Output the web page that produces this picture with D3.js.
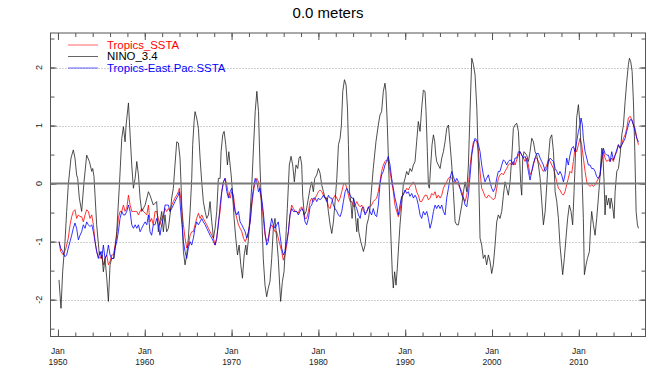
<!DOCTYPE html>
<html>
<head>
<meta charset="utf-8">
<title>0.0 meters</title>
<script src="https://d3js.org/d3.v7.min.js"></script>
<style>
  body { margin: 0; background: #fff; }
  svg text { font-family: "Liberation Sans", Arial, sans-serif; }
</style>
</head>
<body>
<script>
// monthly anomalies, [decimal year, value]
const tropicsSSTA = [
  [1950.12,-1.00],[1950.31,-1.17],[1950.62,-1.23],[1950.92,-1.11],[1951.19,-0.94],[1951.39,-0.71],[1951.58,-0.57],[1951.77,-0.48],[1951.96,-0.45],[1952.15,-0.60],[1952.35,-0.54],[1952.54,-0.57],[1952.73,-0.57],[1952.92,-0.66],[1953.12,-0.54],[1953.31,-0.45],[1953.50,-0.48],[1953.69,-0.60],[1953.89,-0.54],[1954.08,-0.71],[1954.27,-1.00],[1954.46,-1.17],[1954.65,-1.26],[1954.85,-1.29],[1955.04,-1.23],[1955.23,-1.40],[1955.42,-1.29],[1955.62,-1.23],[1955.81,-1.40],[1956.00,-1.34],[1956.19,-1.23],[1956.39,-1.23],[1956.58,-1.06],[1956.77,-0.89],[1956.96,-0.60],[1957.15,-0.48],[1957.35,-0.48],[1957.54,-0.37],[1957.73,-0.48],[1957.92,-0.43],[1958.12,-0.20],[1958.31,-0.37],[1958.50,-0.48],[1958.69,-0.48],[1958.89,-0.48],[1959.08,-0.48],[1959.27,-0.54],[1959.46,-0.48],[1959.65,-0.43],[1959.85,-0.48],[1960.04,-0.51],[1960.23,-0.54],[1960.42,-0.37],
  [1960.60,-0.66],[1960.79,-0.60],[1960.98,-0.71],[1961.18,-0.48],[1961.37,-0.48],[1961.56,-0.60],[1961.75,-0.71],[1961.95,-0.60],[1962.14,-0.54],[1962.33,-0.43],[1962.52,-0.48],[1962.72,-0.43],[1962.91,-0.48],[1963.10,-0.37],[1963.29,-0.31],[1963.48,-0.25],[1963.68,-0.20],[1963.87,-0.14],[1963.98,-0.08],[1964.14,-0.25],[1964.29,-0.48],[1964.45,-0.71],[1964.64,-0.94],[1964.83,-1.11],[1965.02,-1.06],[1965.22,-0.89],[1965.41,-0.83],[1965.60,-0.83],[1965.79,-0.71],[1965.98,-0.60],[1966.18,-0.51],[1966.37,-0.60],[1966.56,-0.54],[1966.75,-0.60],[1966.95,-0.66],[1967.14,-0.71],[1967.33,-0.77],[1967.52,-0.83],[1967.72,-0.89],[1967.91,-0.94],[1968.10,-1.06],[1968.29,-0.94],[1968.48,-0.66],[1968.68,-0.48],[1968.87,-0.14],[1969.06,0.03],[1969.25,0.09],[1969.45,-0.02],[1969.64,-0.20],[1969.83,-0.25],[1970.02,-0.14],[1970.22,-0.20],[1970.41,-0.48],[1970.60,-0.60],[1970.79,-0.71],[1970.98,-0.77],[1971.18,-0.83],[1971.37,-0.94],[1971.56,-1.00],[1971.75,-0.94],[1971.95,-0.83],[1972.14,-0.66],[1972.33,-0.37],[1972.52,-0.14],[1972.72,0.03],[1972.91,0.09],[1973.10,0.03],
  [1973.27,-0.14],[1973.46,-0.31],[1973.65,-0.60],[1973.85,-0.89],[1974.04,-1.00],[1974.23,-0.94],[1974.42,-0.77],[1974.62,-0.71],[1974.81,-0.77],[1975.00,-0.83],[1975.19,-0.83],[1975.38,-0.94],[1975.58,-1.06],[1975.77,-1.17],[1975.96,-1.32],[1976.15,-1.23],[1976.35,-1.06],[1976.54,-0.83],[1976.73,-0.54],[1976.92,-0.37],[1977.12,-0.43],[1977.31,-0.48],[1977.50,-0.48],[1977.69,-0.51],[1977.88,-0.43],[1978.08,-0.40],[1978.27,-0.48],[1978.46,-0.60],[1978.65,-0.60],[1978.85,-0.48],[1979.04,-0.31],[1979.23,-0.25],[1979.42,-0.31],[1979.62,-0.25],[1979.81,-0.20],[1980.00,-0.14],[1980.19,-0.11],[1980.38,-0.14],[1980.58,-0.20],[1980.77,-0.25],[1980.96,-0.25],[1981.15,-0.40],[1981.35,-0.43],[1981.54,-0.31],[1981.73,-0.25],[1981.92,-0.20],[1982.12,-0.25],[1982.31,-0.31],[1982.50,-0.25],[1982.69,-0.14],[1982.88,-0.02],[1983.08,0.01],[1983.27,-0.08],[1983.46,-0.20],[1983.65,-0.31],[1983.85,-0.31],[1984.04,-0.40],[1984.23,-0.37],[1984.42,-0.31],[1984.62,-0.37],[1984.81,-0.40],[1985.00,-0.37],[1985.19,-0.48],[1985.38,-0.51],[1985.58,-0.48],[1985.77,-0.40],
  [1985.94,-0.40],[1986.13,-0.37],[1986.32,-0.31],[1986.52,-0.28],[1986.71,-0.25],[1986.90,-0.14],[1987.09,0.03],[1987.28,0.21],[1987.48,0.32],[1987.67,0.38],[1987.86,0.41],[1988.05,0.38],[1988.25,0.21],[1988.44,0.03],[1988.63,-0.14],[1988.82,-0.37],[1989.02,-0.48],[1989.21,-0.57],[1989.40,-0.48],[1989.59,-0.25],[1989.78,-0.17],[1989.98,-0.14],[1990.17,-0.08],[1990.36,-0.11],[1990.55,-0.05],[1990.75,-0.02],[1990.94,0.03],[1991.13,-0.02],[1991.32,-0.14],[1991.51,-0.20],[1991.71,-0.31],[1991.90,-0.31],[1992.09,-0.25],[1992.28,-0.20],[1992.48,-0.20],[1992.67,-0.28],[1992.86,-0.25],[1993.05,-0.17],[1993.25,-0.20],[1993.44,-0.14],[1993.63,-0.25],[1993.82,-0.20],[1994.02,-0.25],[1994.21,-0.20],[1994.40,-0.08],[1994.59,-0.02],[1994.78,0.03],[1994.98,0.09],[1995.17,0.12],[1995.36,0.09],[1995.55,0.03],[1995.75,0.01],[1995.94,0.03],[1996.13,-0.02],[1996.32,-0.08],[1996.52,-0.14],[1996.71,-0.25],[1996.90,-0.31],[1997.09,-0.20],[1997.28,-0.02],[1997.48,0.32],[1997.67,0.55],[1997.86,0.72],[1998.05,0.75],[1998.25,0.72],[1998.44,0.55],
  [1998.62,0.21],[1998.81,-0.08],[1999.00,-0.14],[1999.19,-0.22],[1999.38,-0.25],[1999.58,-0.20],[1999.77,-0.22],[1999.96,-0.25],[2000.15,-0.28],[2000.35,-0.25],[2000.54,-0.08],[2000.73,0.09],[2000.92,0.15],[2001.12,0.18],[2001.31,0.15],[2001.50,0.21],[2001.69,0.26],[2001.88,0.32],[2002.08,0.35],[2002.27,0.32],[2002.46,0.38],[2002.65,0.32],[2002.85,0.41],[2003.04,0.49],[2003.23,0.55],[2003.42,0.49],[2003.62,0.44],[2003.81,0.38],[2004.00,0.44],[2004.19,0.32],[2004.38,0.15],[2004.58,0.21],[2004.77,0.32],[2004.96,0.44],[2005.15,0.44],[2005.35,0.38],[2005.54,0.32],[2005.73,0.26],[2005.92,0.21],[2006.12,0.26],[2006.31,0.32],[2006.50,0.41],[2006.69,0.38],[2006.88,0.32],[2007.08,0.26],[2007.27,0.15],[2007.46,0.03],[2007.65,-0.08],
  [2007.83,-0.11],[2008.02,-0.17],[2008.22,-0.20],[2008.41,-0.14],[2008.60,-0.02],[2008.79,0.09],[2008.98,0.21],[2009.18,0.18],[2009.37,0.38],[2009.56,0.61],[2009.75,0.55],[2009.95,0.67],[2010.14,0.78],[2010.33,0.67],[2010.52,0.44],[2010.72,0.21],[2010.91,0.03],[2011.10,-0.02],[2011.29,-0.05],[2011.48,-0.02],[2011.68,-0.05],[2011.87,-0.02],[2012.06,0.03],[2012.25,0.09],[2012.45,0.15],[2012.64,0.38],[2012.83,0.55],[2013.02,0.44],[2013.21,0.38],[2013.41,0.41],[2013.60,0.38],[2013.79,0.44],[2013.98,0.38],[2014.18,0.49],[2014.37,0.55],[2014.56,0.67],[2014.75,0.61],[2014.95,0.67],[2015.14,0.78],[2015.33,0.84],[2015.52,0.95],[2015.71,1.13],[2015.91,1.16],[2016.10,1.10],[2016.29,1.01],[2016.48,0.95],[2016.68,0.78],[2016.87,0.67]
];

const nino34 = [
  [1950.12,-1.66],[1950.35,-2.15],[1950.54,-1.52],[1950.81,-1.00],[1951.00,-0.48],[1951.19,-0.02],[1951.50,0.44],[1951.77,0.58],[1951.96,0.44],[1952.15,0.15],[1952.27,0.09],[1952.46,-0.25],[1952.73,-0.48],[1953.00,0.03],[1953.31,0.49],[1953.62,0.38],[1953.89,0.21],[1954.00,0.26],[1954.15,0.12],[1954.46,-0.71],[1954.77,-1.23],[1955.04,-1.17],[1955.23,-1.52],[1955.42,-1.29],[1955.62,-1.63],[1955.81,-2.03],[1956.00,-1.40],[1956.19,-1.29],[1956.46,-1.29],[1956.77,-0.83],[1957.08,-0.02],[1957.35,0.78],[1957.54,0.98],[1957.73,0.72],[1957.85,1.01],[1958.12,1.39],[1958.31,0.84],[1958.50,0.32],[1958.69,-0.08],[1958.89,0.09],[1959.08,0.38],[1959.27,0.15],[1959.46,-0.25],[1959.65,-0.48],[1960.04,-0.37],[1960.42,-0.14],
  [1960.60,-0.20],[1960.98,-0.37],[1961.37,-0.31],[1961.56,-0.83],[1961.75,-0.66],[1961.95,-0.48],[1962.14,-0.83],[1962.33,-0.54],[1962.52,-0.83],[1962.72,-0.77],[1962.91,-0.54],[1963.10,-0.25],[1963.29,-0.08],[1963.48,0.32],[1963.68,0.72],[1963.87,0.70],[1964.06,0.44],[1964.18,-0.02],[1964.33,-0.71],[1964.45,-1.17],[1964.64,-1.40],[1964.83,-1.23],[1965.02,-0.94],[1965.22,-0.48],[1965.41,0.09],[1965.52,0.67],[1965.68,1.07],[1965.79,1.24],[1965.98,1.13],[1966.18,0.95],[1966.37,0.44],[1966.56,0.03],[1966.75,-0.31],[1966.95,-0.48],[1967.14,-0.60],[1967.33,-0.54],[1967.52,-0.31],[1967.72,-0.66],[1967.91,-0.94],[1968.10,-0.77],[1968.29,-0.48],[1968.48,0.09],[1968.68,0.09],[1968.79,0.55],[1968.98,0.84],[1969.14,0.90],[1969.33,0.67],[1969.52,0.32],[1969.68,0.55],[1969.83,0.32],[1969.95,0.15],[1970.10,-0.14],[1970.29,-0.60],[1970.48,-0.94],[1970.68,-1.23],[1970.87,-1.06],[1971.06,-1.40],[1971.25,-1.63],[1971.45,-1.23],[1971.64,-1.06],[1971.75,-1.23],[1971.95,-0.94],[1972.14,-0.48],[1972.33,-0.02],[1972.52,0.61],[1972.72,1.24],[1972.91,1.59],[1973.10,1.24],
  [1973.27,0.32],[1973.46,-0.48],[1973.65,-1.29],[1973.85,-1.75],[1974.04,-1.95],[1974.23,-1.80],[1974.42,-1.69],[1974.62,-1.29],[1974.81,-0.77],[1975.00,-0.60],[1975.19,-0.94],[1975.38,-1.29],[1975.58,-1.86],[1975.65,-2.03],[1975.85,-1.69],[1976.04,-1.52],[1976.23,-1.00],[1976.42,-0.43],[1976.65,0.32],[1976.85,0.47],[1977.04,0.32],[1977.23,0.03],[1977.42,0.32],[1977.62,0.26],[1977.77,0.44],[1977.92,0.47],[1978.08,0.32],[1978.19,-0.20],[1978.38,-0.54],[1978.58,-0.48],[1978.85,-0.25],[1979.04,-0.08],[1979.23,0.03],[1979.42,-0.14],[1979.58,0.09],[1979.81,0.15],[1980.00,0.26],[1980.19,0.18],[1980.38,-0.02],[1980.58,-0.14],[1980.77,-0.25],[1980.96,-0.25],[1981.15,-0.48],[1981.35,-0.71],[1981.54,-0.86],[1981.73,-0.66],[1981.92,-0.31],[1982.12,0.09],[1982.31,0.67],[1982.50,0.78],[1982.65,1.01],[1982.81,1.59],[1983.00,1.79],[1983.19,1.70],[1983.35,1.30],[1983.46,0.67],[1983.58,-0.14],[1983.73,-0.31],[1983.88,-0.60],[1984.04,-0.25],[1984.23,-0.48],[1984.42,-0.83],[1984.54,-0.60],[1984.65,-0.83],[1984.88,-1.00],[1985.19,-1.17],[1985.38,-1.06],[1985.58,-0.71],[1985.77,-0.60],
  [1985.94,-0.43],[1986.32,0.26],[1986.63,0.72],[1986.90,1.01],[1987.09,1.18],[1987.28,1.24],[1987.48,1.59],[1987.67,1.73],[1987.78,1.59],[1987.94,1.01],[1988.09,0.32],[1988.25,-0.48],[1988.36,-0.94],[1988.52,-1.57],[1988.63,-1.80],[1988.78,-1.52],[1988.94,-1.75],[1989.09,-1.46],[1989.25,-1.06],[1989.40,-0.71],[1989.59,-0.37],[1989.78,-0.02],[1989.98,0.09],[1990.17,0.21],[1990.36,0.15],[1990.55,0.26],[1990.75,0.21],[1990.94,0.32],[1991.13,0.38],[1991.32,0.72],[1991.51,1.07],[1991.71,0.90],[1991.90,1.30],[1992.09,1.61],[1992.28,1.59],[1992.40,1.24],[1992.55,0.55],[1992.67,-0.02],[1992.78,-0.08],[1992.94,0.32],[1993.09,0.67],[1993.25,0.84],[1993.40,0.72],[1993.52,0.49],[1993.63,0.38],[1993.82,0.32],[1994.02,0.26],[1994.21,0.44],[1994.40,0.55],[1994.59,0.72],[1994.78,0.95],[1994.98,1.01],[1995.17,0.67],[1995.36,0.32],[1995.55,-0.14],[1995.75,-0.66],[1995.94,-0.71],[1996.13,-0.71],[1996.32,-0.54],[1996.52,-0.37],[1996.71,-0.14],[1996.90,0.03],[1997.09,-0.14],[1997.28,0.32],[1997.48,1.30],[1997.67,2.16],[1997.86,2.05],[1998.05,1.87],[1998.25,1.30],[1998.44,0.32],
  [1998.62,-0.94],[1998.81,-1.06],[1999.00,-1.29],[1999.19,-1.23],[1999.38,-1.40],[1999.58,-1.23],[1999.77,-1.34],[1999.96,-1.55],[2000.15,-1.40],[2000.35,-1.06],[2000.54,-0.66],[2000.73,-0.54],[2000.92,-0.60],[2001.12,-0.48],[2001.31,-0.20],[2001.50,0.03],[2001.69,-0.08],[2001.88,-0.20],[2002.08,0.03],[2002.27,0.44],[2002.46,0.95],[2002.65,1.01],[2002.85,1.04],[2003.04,0.90],[2003.15,0.55],[2003.31,-0.02],[2003.42,-0.20],[2003.54,0.44],[2003.69,0.55],[2004.00,0.49],[2004.19,0.38],[2004.38,0.55],[2004.58,0.78],[2004.77,0.72],[2004.96,0.55],[2005.15,0.49],[2005.35,0.32],[2005.54,0.09],[2005.73,-0.31],[2005.92,-0.71],[2006.12,-0.48],[2006.31,-0.02],[2006.50,0.44],[2006.69,0.78],[2006.88,0.84],[2007.08,0.55],[2007.27,-0.14],[2007.46,-0.31],[2007.65,-0.60],
  [2007.83,-1.06],[2008.14,-1.57],[2008.33,-1.29],[2008.52,-0.94],[2008.71,-0.60],[2008.91,-0.37],[2009.10,-0.48],[2009.29,-0.71],[2009.45,-0.14],[2009.60,0.44],[2009.75,1.13],[2009.95,1.36],[2010.14,1.01],[2010.33,0.32],[2010.52,-0.60],[2010.64,-1.57],[2010.83,-1.40],[2010.99,-1.29],[2011.22,-1.17],[2011.37,-0.71],[2011.48,-0.48],[2011.68,-0.71],[2011.87,-0.89],[2012.06,-0.60],[2012.25,-0.25],[2012.45,0.15],[2012.64,0.61],[2012.75,0.58],[2012.91,0.03],[2013.02,-0.54],[2013.14,-0.20],[2013.29,-0.37],[2013.45,-0.25],[2013.60,-0.43],[2013.72,-0.25],[2013.87,-0.37],[2014.06,-0.60],[2014.18,-0.14],[2014.37,0.21],[2014.56,0.26],[2014.75,0.49],[2014.95,0.84],[2015.14,1.01],[2015.33,1.41],[2015.52,1.76],[2015.71,2.05],[2015.83,2.16],[2015.98,2.10],[2016.14,1.93],[2016.29,1.41],[2016.45,0.55],[2016.60,-0.48],[2016.75,-0.71],[2016.87,-0.77]
];

const eastPacSSTA = [
  [1950.12,-1.00],[1950.31,-1.11],[1950.54,-1.17],[1950.81,-1.26],[1951.00,-1.23],[1951.19,-1.11],[1951.39,-1.00],[1951.58,-0.89],[1951.77,-0.77],[1951.96,-0.68],[1952.15,-0.77],[1952.35,-0.97],[1952.54,-0.89],[1952.73,-0.83],[1952.92,-0.71],[1953.12,-0.77],[1953.31,-0.66],[1953.50,-0.71],[1953.69,-0.74],[1953.89,-0.71],[1954.08,-0.83],[1954.27,-1.00],[1954.46,-1.17],[1954.65,-1.29],[1954.85,-1.17],[1955.04,-1.29],[1955.23,-1.06],[1955.42,-1.29],[1955.62,-1.23],[1955.81,-1.06],[1956.00,-1.23],[1956.19,-1.29],[1956.39,-1.29],[1956.58,-1.11],[1956.77,-1.00],[1956.96,-0.83],[1957.15,-0.60],[1957.35,-0.48],[1957.54,-0.54],[1957.73,-0.54],[1957.92,-0.48],[1958.12,-0.37],[1958.31,-0.48],[1958.50,-0.71],[1958.69,-0.77],[1958.89,-0.71],[1959.08,-0.77],[1959.27,-0.71],[1959.46,-0.83],[1959.65,-0.77],[1959.85,-0.71],[1960.04,-0.66],[1960.23,-0.71],[1960.42,-0.54],
  [1960.60,-0.83],[1960.79,-0.89],[1960.98,-0.71],[1961.18,-0.71],[1961.37,-0.60],[1961.56,-0.71],[1961.75,-0.89],[1961.95,-0.71],[1962.14,-0.60],[1962.33,-0.37],[1962.52,-0.37],[1962.72,-0.37],[1962.91,-0.48],[1963.10,-0.43],[1963.29,-0.37],[1963.48,-0.31],[1963.68,-0.25],[1963.87,-0.20],[1963.98,-0.14],[1964.14,-0.48],[1964.29,-0.71],[1964.45,-1.00],[1964.64,-1.17],[1964.83,-1.29],[1965.02,-1.11],[1965.22,-1.00],[1965.41,-1.06],[1965.60,-0.94],[1965.79,-0.77],[1965.98,-0.66],[1966.18,-0.71],[1966.37,-0.66],[1966.56,-0.60],[1966.75,-0.66],[1966.95,-0.71],[1967.14,-0.77],[1967.33,-0.83],[1967.52,-0.89],[1967.72,-0.94],[1967.91,-1.00],[1968.10,-1.06],[1968.29,-0.94],[1968.48,-0.71],[1968.68,-0.37],[1968.87,-0.14],[1969.06,0.03],[1969.25,0.09],[1969.45,-0.14],[1969.64,-0.25],[1969.83,-0.14],[1970.02,-0.08],[1970.22,-0.31],[1970.41,-0.48],[1970.60,-0.54],[1970.79,-0.48],[1970.98,-0.66],[1971.18,-0.71],[1971.37,-0.77],[1971.56,-0.83],[1971.75,-0.94],[1971.95,-0.83],[1972.14,-0.66],[1972.33,-0.31],[1972.52,-0.08],[1972.72,0.09],[1972.91,0.03],[1973.10,-0.14],
  [1973.27,-0.08],[1973.46,-0.25],[1973.65,-0.48],[1973.85,-0.83],[1974.04,-1.06],[1974.23,-1.00],[1974.42,-0.77],[1974.62,-0.60],[1974.81,-0.71],[1975.00,-0.77],[1975.19,-0.71],[1975.38,-0.66],[1975.58,-0.89],[1975.77,-1.11],[1975.96,-1.23],[1976.15,-1.17],[1976.35,-1.00],[1976.54,-0.83],[1976.73,-0.54],[1976.92,-0.43],[1977.12,-0.48],[1977.31,-0.48],[1977.50,-0.48],[1977.69,-0.54],[1977.88,-0.48],[1978.08,-0.43],[1978.27,-0.48],[1978.46,-0.66],[1978.65,-0.71],[1978.85,-0.60],[1979.04,-0.40],[1979.23,-0.37],[1979.42,-0.25],[1979.62,-0.25],[1979.81,-0.31],[1980.00,-0.25],[1980.19,-0.28],[1980.38,-0.25],[1980.58,-0.20],[1980.77,-0.25],[1980.96,-0.31],[1981.15,-0.20],[1981.35,-0.25],[1981.54,-0.25],[1981.73,-0.37],[1981.92,-0.43],[1982.12,-0.48],[1982.31,-0.54],[1982.50,-0.57],[1982.69,-0.48],[1982.88,-0.31],[1983.08,-0.14],[1983.27,-0.08],[1983.46,-0.14],[1983.65,-0.20],[1983.85,-0.25],[1984.04,-0.25],[1984.23,-0.37],[1984.42,-0.43],[1984.62,-0.54],[1984.81,-0.60],[1985.00,-0.43],[1985.19,-0.40],[1985.38,-0.54],[1985.58,-0.48],[1985.77,-0.40],
  [1985.94,-0.48],[1986.13,-0.54],[1986.32,-0.43],[1986.52,-0.54],[1986.71,-0.57],[1986.90,-0.37],[1987.09,-0.02],[1987.28,0.15],[1987.48,0.21],[1987.67,0.32],[1987.86,0.38],[1988.05,0.47],[1988.25,0.32],[1988.44,0.09],[1988.63,-0.08],[1988.82,-0.25],[1989.02,-0.37],[1989.21,-0.54],[1989.40,-0.37],[1989.59,-0.22],[1989.78,-0.20],[1989.98,-0.11],[1990.17,-0.17],[1990.36,-0.14],[1990.55,-0.22],[1990.75,-0.17],[1990.94,-0.25],[1991.13,-0.20],[1991.32,-0.25],[1991.51,-0.37],[1991.71,-0.54],[1991.90,-0.60],[1992.09,-0.48],[1992.28,-0.54],[1992.48,-0.48],[1992.67,-0.60],[1992.86,-0.77],[1993.05,-0.66],[1993.25,-0.48],[1993.44,-0.37],[1993.63,-0.43],[1993.82,-0.37],[1994.02,-0.43],[1994.21,-0.37],[1994.40,-0.48],[1994.59,-0.54],[1994.78,-0.25],[1994.98,-0.08],[1995.17,0.09],[1995.36,0.21],[1995.55,0.12],[1995.75,0.03],[1995.94,0.09],[1996.13,0.03],[1996.32,-0.08],[1996.52,-0.20],[1996.71,-0.25],[1996.90,-0.37],[1997.09,-0.40],[1997.28,-0.20],[1997.48,0.15],[1997.67,0.49],[1997.86,0.67],[1998.05,0.78],[1998.25,0.75],[1998.44,0.67],
  [1998.62,0.55],[1998.81,0.32],[1999.00,0.15],[1999.19,0.03],[1999.38,0.09],[1999.58,0.15],[1999.77,0.03],[1999.96,-0.08],[2000.15,-0.14],[2000.35,-0.08],[2000.54,0.09],[2000.73,0.21],[2000.92,0.21],[2001.12,0.32],[2001.31,0.41],[2001.50,0.38],[2001.69,0.32],[2001.88,0.38],[2002.08,0.41],[2002.27,0.38],[2002.46,0.32],[2002.65,0.44],[2002.85,0.44],[2003.04,0.55],[2003.23,0.55],[2003.42,0.49],[2003.62,0.44],[2003.81,0.47],[2004.00,0.38],[2004.19,0.21],[2004.38,0.06],[2004.58,0.21],[2004.77,0.35],[2004.96,0.44],[2005.15,0.52],[2005.35,0.52],[2005.54,0.44],[2005.73,0.38],[2005.92,0.32],[2006.12,0.21],[2006.31,0.26],[2006.50,0.38],[2006.69,0.44],[2006.88,0.41],[2007.08,0.38],[2007.27,0.26],[2007.46,0.21],[2007.65,0.15],
  [2007.83,0.21],[2008.02,0.15],[2008.22,0.03],[2008.41,0.15],[2008.60,0.44],[2008.79,0.32],[2008.98,0.49],[2009.18,0.61],[2009.37,0.64],[2009.56,0.55],[2009.75,0.72],[2009.95,0.90],[2010.14,1.01],[2010.26,1.13],[2010.41,1.01],[2010.52,0.78],[2010.72,0.55],[2010.91,0.44],[2011.10,0.32],[2011.29,0.32],[2011.48,0.26],[2011.68,0.26],[2011.87,0.21],[2012.06,0.12],[2012.25,0.09],[2012.45,0.15],[2012.64,0.44],[2012.83,0.61],[2013.02,0.52],[2013.21,0.49],[2013.41,0.49],[2013.60,0.38],[2013.79,0.55],[2013.98,0.41],[2014.18,0.49],[2014.37,0.58],[2014.56,0.67],[2014.75,0.61],[2014.95,0.67],[2015.14,0.72],[2015.33,0.78],[2015.52,0.90],[2015.71,1.01],[2015.91,1.10],[2016.10,1.10],[2016.29,1.01],[2016.48,0.90],[2016.68,0.78],[2016.87,0.72]
];

const seriesNames = ["Tropics_SSTA", "NINO_3.4", "Tropics-East.Pac.SSTA"];
const seriesColors = ["#ff0000", "#222222", "#0000ff"];
const legendColors = ["#ff0000", "#000000", "#0000ff"];
const decades = [1950, 1960, 1970, 1980, 1990, 2000, 2010];
const yLabels = [-2, -1, 0, 1, 2];

const width = 650, height = 368;
const plotL = 50.5, plotR = 645.5, plotT = 33, plotB = 336.5;

const x = d3.scaleLinear().domain([1949.14, 2017.68]).range([plotL, plotR]);
const y = d3.scaleLinear().domain([-2.635, 2.595]).range([plotB, plotT]);

const svg = d3.select("body").append("svg")
    .attr("width", width)
    .attr("height", height)
    .style("background", "#fff");

svg.append("defs").append("clipPath").attr("id", "plot-clip")
    .append("rect")
    .attr("x", plotL).attr("y", plotT)
    .attr("width", plotR - plotL).attr("height", plotB - plotT);

// title
svg.append("text")
    .attr("x", 328)
    .attr("y", 18)
    .attr("text-anchor", "middle")
    .style("font-size", "15px")
    .text("0.0 meters");

// dotted grid at the integer values
svg.append("g").selectAll("line")
    .data(yLabels.filter(d => d !== 0))
    .join("line")
    .attr("x1", plotL).attr("x2", plotR)
    .attr("y1", d => Math.round(y(d)) + 0.5)
    .attr("y2", d => Math.round(y(d)) + 0.5)
    .attr("stroke", "#a0a0a0")
    .attr("stroke-dasharray", "1,2");

// ticks on all four sides, pointing inward
const minorYears = d3.range(1950, 2018, 2);
const halfSteps = d3.range(-2.5, 2.51, 0.5);

svg.append("g").attr("transform", `translate(0,${plotB})`)
    .call(d3.axisBottom(x).tickValues(minorYears).tickSize(-4).tickFormat(""))
    .call(g => g.select(".domain").remove());
svg.append("g").attr("transform", `translate(0,${plotB})`)
    .call(d3.axisBottom(x).tickValues(decades).tickSize(-7).tickFormat(""))
    .call(g => g.select(".domain").remove());
svg.append("g").attr("transform", `translate(0,${plotT})`)
    .call(d3.axisTop(x).tickValues(minorYears).tickSize(-4).tickFormat(""))
    .call(g => g.select(".domain").remove());
svg.append("g").attr("transform", `translate(0,${plotT})`)
    .call(d3.axisTop(x).tickValues(decades).tickSize(-7).tickFormat(""))
    .call(g => g.select(".domain").remove());
svg.append("g").attr("transform", `translate(${plotL},0)`)
    .call(d3.axisLeft(y).tickValues(halfSteps).tickSize(-4).tickFormat(""))
    .call(g => g.select(".domain").remove());
svg.append("g").attr("transform", `translate(${plotL},0)`)
    .call(d3.axisLeft(y).tickValues(yLabels).tickSize(-6).tickFormat(""))
    .call(g => g.select(".domain").remove());
svg.append("g").attr("transform", `translate(${plotR},0)`)
    .call(d3.axisRight(y).tickValues(halfSteps).tickSize(-4).tickFormat(""))
    .call(g => g.select(".domain").remove());
svg.append("g").attr("transform", `translate(${plotR},0)`)
    .call(d3.axisRight(y).tickValues(yLabels).tickSize(-6).tickFormat(""))
    .call(g => g.select(".domain").remove());
svg.selectAll(".tick line").attr("stroke", "#555");

// frame
svg.append("rect")
    .attr("x", plotL).attr("y", plotT)
    .attr("width", plotR - plotL).attr("height", plotB - plotT)
    .attr("fill", "none")
    .attr("stroke", "#555");

// y labels, rotated like the original
svg.append("g").selectAll("text")
    .data(yLabels)
    .join("text")
    .attr("transform", d => `translate(42,${y(d)}) rotate(-90)`)
    .attr("text-anchor", "middle")
    .style("font-size", "9px")
    .attr("fill", "#222")
    .text(d => d);

// x labels, two lines each
const xl = svg.append("g").selectAll("text")
    .data(decades)
    .join("text")
    .attr("text-anchor", "middle")
    .style("font-size", "8.5px")
    .attr("fill", "#222");
xl.append("tspan").attr("x", d => x(d)).attr("y", 354).text("Jan");
xl.append("tspan").attr("x", d => x(d)).attr("y", 365).text(d => d);

// series
const line = d3.line().x(d => x(d[0])).y(d => y(d[1]));
const plot = svg.append("g").attr("clip-path", "url(#plot-clip)");
[tropicsSSTA, nino34, eastPacSSTA].forEach((s, i) => {
    plot.append("path")
        .datum(s)
        .attr("fill", "none")
        .attr("stroke", seriesColors[i])
        .attr("stroke-width", 0.8)
        .attr("stroke-linejoin", "round")
        .attr("d", line);
});

// zero line
svg.append("line")
    .attr("x1", plotL).attr("x2", plotR)
    .attr("y1", y(0)).attr("y2", y(0))
    .attr("stroke", "#7a7a7a")
    .attr("stroke-width", 2);

// legend
const legend = svg.append("g").attr("class", "legend");
seriesNames.forEach((name, i) => {
    const ly = 45 + i * 11.5;
    legend.append("path")
        .attr("d", `M68,${ly}H98`)
        .style("stroke", legendColors[i])
        .style("stroke-width", "1px")
        .style("fill", "none")
        .style("opacity", 0.6);
    legend.append("text")
        .attr("x", 107)
        .attr("y", ly)
        .attr("dy", "0.35em")
        .style("font-size", "11.4px")
        .style("fill", legendColors[i])
        .text(name);
});
</script>
</body>
</html>
